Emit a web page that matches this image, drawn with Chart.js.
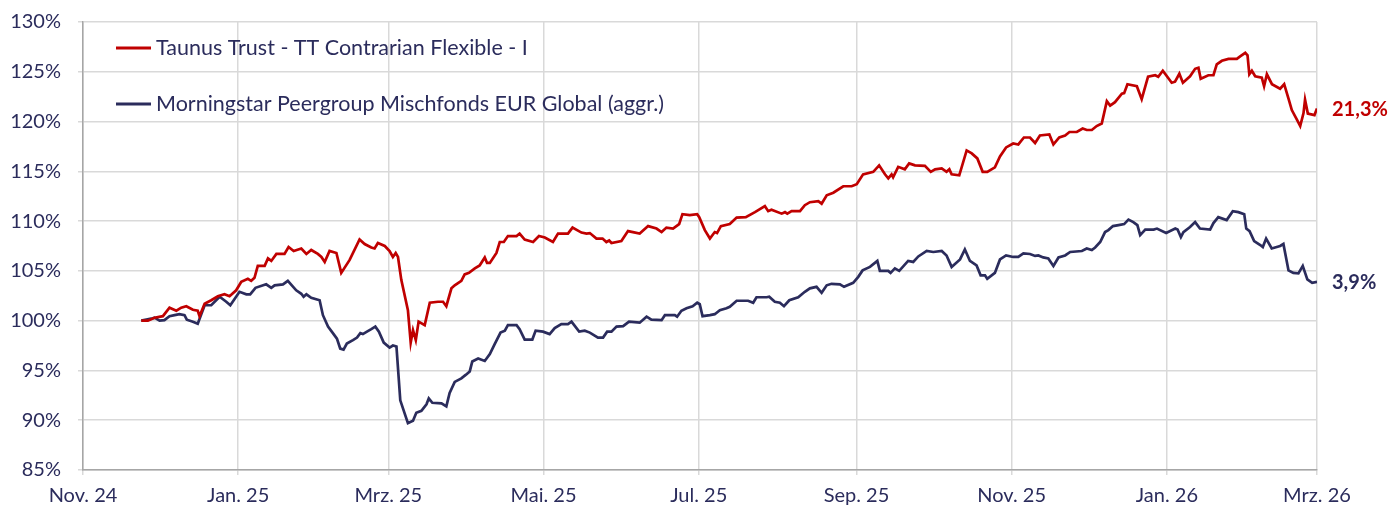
<!DOCTYPE html>
<html>
<head>
<meta charset="utf-8">
<title>Taunus Trust - TT Contrarian Flexible - I</title>
<script src="https://cdn.jsdelivr.net/npm/chart.js@4.4.1/dist/chart.umd.min.js"></script>
<style>
    html, body { margin: 0; padding: 0; background: #ffffff; }
    #chart-container { width: 1393px; height: 510px; position: relative; }
</style>
</head>
<body>
<div id="chart-container"><canvas id="Chart1"></canvas></div>
<script>
// x = Tage seit 01.11.2024
const tickDays = [0, 61, 120, 181, 242, 304, 365, 426, 485];
const tickLabels = ['Nov. 24', 'Jan. 25', 'Mrz. 25', 'Mai. 25', 'Jul. 25', 'Sep. 25', 'Nov. 25', 'Jan. 26', 'Mrz. 26'];

const fundLabel = 'Taunus Trust - TT Contrarian Flexible - I';
const fundDays = [22.9, 25.5, 28.1, 31.4, 34.0, 36.7, 38.6, 40.6, 43.2, 45.1, 45.8, 47.8, 50.4, 53.0, 55.6, 57.6, 60.2, 62.2, 64.8, 66.1,
    67.4, 68.7, 71.4, 72.7, 74.0, 76.0, 79.2, 80.8, 82.8, 85.8, 87.8, 89.7, 92.3, 93.7, 95.0, 96.9, 99.6, 101.5, 104.8, 108.7,
    110.7, 113.3, 114.6, 115.9, 118.6, 120.5, 121.8, 122.9, 123.8, 125.1, 127.7, 128.8, 129.7, 130.8, 131.9, 134.3, 136.3, 139.5, 141.5, 142.8,
    144.8, 146.1, 148.7, 150.0, 151.7, 154.0, 155.9, 157.9, 158.8, 159.9, 162.5, 163.8, 165.4, 167.0, 170.4, 171.6, 173.6, 176.9, 179.2, 181.5,
    184.7, 186.7, 190.6, 192.4, 195.9, 197.9, 199.2, 201.8, 204.2, 205.7, 206.8, 207.7, 211.6, 214.2, 218.8, 222.1, 225.4, 227.4, 229.3, 231.9,
    234.3, 235.6, 238.5, 241.4, 242.2, 244.4, 246.4, 248.3, 249.2, 250.7, 254.2, 256.9, 260.5, 264.1, 268.0, 269.3, 270.6, 274.6, 275.9, 276.8,
    278.5, 281.8, 283.7, 285.7, 289.0, 290.3, 292.3, 294.9, 298.8, 302.1, 304.1, 306.6, 310.6, 312.9, 315.2, 316.5, 317.8, 318.4, 320.4, 323.0,
    324.7, 327.0, 330.9, 333.2, 334.9, 337.5, 339.4, 340.5, 341.4, 344.4, 347.3, 349.3, 351.5, 353.6, 355.4, 358.4, 360.4, 362.8, 365.6, 367.6,
    369.8, 372.2, 374.2, 376.1, 379.8, 381.4, 383.7, 386.0, 387.7, 390.6, 392.9, 394.5, 396.5, 398.4, 400.4, 402.4, 403.7, 405.6, 408.3, 409.2,
    410.5, 414.2, 416.1, 418.6, 421.4, 422.6, 424.4, 427.9, 429.2, 430.9, 432.3, 435.1, 437.1, 438.4, 439.3, 442.3, 444.3, 445.6, 447.6, 450.2,
    453.5, 454.8, 456.8, 457.7, 458.4, 459.4, 460.7, 463.3, 464.2, 465.3, 467.3, 470.5, 472.1, 473.8, 475.1, 477.1, 478.4, 479.7, 480.3, 481.4,
    484.0, 485.0];
const fundValues = [100.0, 100.0, 100.3, 100.45, 101.3, 101.0, 101.3, 101.45, 101.1, 101.0, 100.45, 101.7, 102.05, 102.45, 102.65, 102.45, 103.05, 103.9, 104.2, 104.0,
    104.3, 105.5, 105.5, 106.25, 106.0, 106.7, 106.7, 107.4, 107.0, 107.25, 106.7, 107.1, 106.7, 106.4, 105.9, 107.0, 106.8, 104.8, 106.1, 108.15,
    107.7, 107.35, 107.25, 107.8, 107.5, 107.0, 106.4, 106.8, 106.4, 104.1, 101.05, 97.8, 99.05, 98.05, 99.9, 99.55, 101.8, 101.9, 101.9, 101.45,
    103.25, 103.55, 104.0, 104.65, 104.8, 105.25, 105.55, 106.35, 105.8, 105.8, 106.8, 107.9, 107.9, 108.5, 108.5, 108.75, 108.15, 107.9, 108.5, 108.35,
    107.9, 108.75, 108.75, 109.35, 108.85, 108.75, 108.8, 108.25, 108.25, 107.9, 108.05, 107.8, 108.0, 109.0, 108.75, 109.5, 109.25, 108.9, 109.35, 109.25,
    109.7, 110.7, 110.6, 110.7, 110.4, 109.1, 108.25, 108.9, 108.8, 109.5, 109.7, 110.35, 110.4, 110.9, 111.5, 111.0, 111.15, 110.75, 110.9, 110.75,
    111.0, 111.0, 111.6, 111.9, 112.0, 111.75, 112.6, 112.85, 113.5, 113.5, 113.7, 114.7, 114.95, 115.6, 114.7, 114.3, 114.7, 114.4, 115.45, 115.2,
    115.8, 115.6, 115.55, 114.95, 115.2, 115.3, 114.95, 115.2, 114.7, 114.6, 117.1, 116.8, 116.3, 114.95, 114.95, 115.4, 116.5, 117.4, 117.8, 117.7,
    118.4, 118.4, 117.85, 118.6, 118.7, 117.7, 118.4, 118.6, 118.95, 118.95, 119.3, 119.15, 119.15, 119.55, 119.8, 122.05, 121.6, 121.95, 122.8, 122.85,
    123.75, 123.55, 122.25, 124.5, 124.65, 124.5, 125.1, 123.9, 124.0, 124.8, 123.9, 124.55, 125.3, 125.4, 124.3, 124.65, 124.65, 125.75, 126.1, 126.3,
    126.3, 126.55, 126.9, 126.65, 124.75, 125.1, 124.55, 124.4, 123.55, 124.75, 123.75, 123.3, 123.75, 122.3, 121.15, 120.2, 119.55, 120.85, 122.2, 120.8,
    120.65, 121.3];

const peerLabel = 'Morningstar Peergroup Mischfonds EUR Global (aggr.)';
const peerDays = [22.9, 24.9, 26.8, 28.1, 30.1, 32.0, 34.0, 36.0, 37.9, 39.9, 40.8, 43.2, 45.1, 47.8, 50.4, 53.7, 56.3, 57.9, 61.5, 64.2,
    65.7, 67.8, 72.0, 74.0, 75.3, 78.6, 80.5, 83.8, 85.8, 86.7, 87.8, 89.7, 93.0, 94.3, 96.3, 98.5, 99.8, 101.1, 102.4, 103.7,
    106.1, 107.7, 109.0, 110.0, 111.6, 113.3, 114.9, 116.3, 118.2, 120.5, 121.8, 123.2, 124.7, 127.7, 129.7, 131.0, 133.0, 135.0, 135.9, 137.3,
    140.9, 142.8, 144.1, 146.1, 148.7, 150.4, 152.0, 153.0, 155.3, 157.9, 159.9, 161.8, 164.1, 165.8, 167.0, 170.4, 171.6, 173.6, 176.6, 177.9,
    180.8, 183.4, 185.4, 188.0, 190.6, 192.0, 195.0, 197.2, 199.2, 202.4, 204.4, 206.0, 207.7, 209.7, 212.3, 214.6, 218.8, 221.5, 223.4, 227.4,
    228.7, 232.6, 233.5, 235.2, 237.2, 239.6, 241.4, 242.4, 243.5, 246.4, 248.3, 250.3, 252.9, 254.2, 256.9, 261.4, 263.4, 264.7, 268.7, 269.7,
    271.9, 273.9, 275.5, 277.6, 281.1, 283.7, 285.7, 288.3, 290.3, 292.3, 294.2, 297.5, 299.1, 302.7, 304.7, 306.4, 309.3, 312.2, 313.2, 316.5,
    317.4, 319.1, 320.8, 324.3, 326.3, 328.3, 331.6, 334.2, 337.5, 339.4, 341.4, 344.7, 346.6, 348.6, 351.2, 352.8, 354.5, 355.4, 358.4, 360.4,
    362.8, 365.6, 367.6, 369.6, 372.2, 374.2, 375.5, 377.4, 379.4, 381.4, 383.4, 386.0, 388.0, 392.6, 394.5, 396.5, 397.8, 399.8, 401.7, 403.0,
    404.8, 407.0, 409.2, 410.9, 412.8, 414.4, 415.5, 417.5, 420.8, 422.1, 425.7, 429.3, 430.2, 431.5, 432.5, 435.1, 437.1, 439.0, 443.0, 444.3,
    446.2, 449.5, 451.9, 454.1, 456.4, 457.2, 458.5, 460.3, 462.7, 463.7, 465.0, 467.2, 470.5, 471.8, 473.8, 475.7, 477.7, 479.4, 481.2, 483.1,
    485.0];
const peerValues = [100.0, 100.1, 100.2, 100.3, 100.0, 100.05, 100.45, 100.55, 100.65, 100.55, 100.1, 99.9, 99.7, 101.55, 101.55, 102.4, 101.9, 101.55, 102.9, 102.65,
    102.65, 103.3, 103.65, 103.3, 103.55, 103.65, 104.0, 103.05, 102.7, 102.4, 102.65, 102.3, 102.05, 100.55, 99.4, 98.65, 98.2, 97.2, 97.1, 97.7,
    98.05, 98.3, 98.75, 98.65, 98.9, 99.15, 99.4, 98.9, 97.8, 97.3, 97.5, 97.4, 92.0, 89.7, 89.95, 90.75, 90.95, 91.6, 92.2, 91.75,
    91.7, 91.4, 92.75, 93.85, 94.2, 94.55, 94.9, 95.9, 96.2, 95.95, 96.65, 97.65, 98.8, 99.0, 99.55, 99.55, 99.15, 98.1, 98.1, 99.0,
    98.9, 98.65, 99.25, 99.65, 99.65, 99.9, 98.9, 99.0, 98.8, 98.3, 98.3, 98.9, 98.9, 99.4, 99.45, 99.9, 99.8, 100.4, 100.1, 100.05,
    100.55, 100.55, 100.4, 101.0, 101.25, 101.45, 101.8, 101.65, 100.45, 100.55, 100.65, 101.05, 101.25, 101.4, 102.0, 102.0, 101.8, 102.35, 102.35, 102.4,
    101.9, 101.8, 101.45, 102.05, 102.35, 102.9, 103.25, 103.4, 102.8, 103.55, 103.7, 103.65, 103.4, 103.8, 104.4, 105.05, 105.4, 106.0, 105.0, 105.0,
    104.8, 105.25, 105.0, 106.0, 105.9, 106.45, 107.0, 106.9, 107.0, 106.55, 105.4, 106.15, 107.15, 106.0, 105.55, 104.55, 104.55, 104.2, 104.8, 106.15,
    106.55, 106.4, 106.4, 106.75, 106.7, 106.5, 106.55, 106.35, 106.25, 105.5, 106.35, 106.55, 106.9, 107.0, 107.25, 107.1, 107.35, 107.9, 108.9, 109.1,
    109.5, 109.6, 109.7, 110.15, 109.9, 109.6, 108.6, 109.15, 109.15, 109.25, 108.8, 109.25, 109.15, 108.4, 108.9, 109.4, 109.9, 109.25, 109.15, 109.8,
    110.4, 110.1, 111.0, 110.9, 110.7, 109.25, 109.0, 108.0, 107.6, 107.4, 108.25, 107.25, 107.5, 107.7, 105.05, 104.8, 104.75, 105.5, 104.15, 103.8,
    103.9];

const yTicks = [85, 130, 5];
const fundColor = '#c00000';
const peerColor = '#2b2c5c';
const textColor = '#2b2c5c';
const fontFamily = 'Lato, "Noto Sans", sans-serif';

let plotChart;

window.onload = function () {
    createPlotChart();
};

function toPoints(days, values) {
    return days.map((d, i) => ({x: d, y: values[i]}));
}

function formatPercent(v) {
    return v.toFixed(1).replace('.', ',') + '%';
}

// Legende innerhalb des Diagramms
const innerLegend = {
    id: 'innerLegend',
    afterDraw(chart) {
        const ctx = chart.ctx;
        const area = chart.chartArea;
        const rows = [26, 82];
        ctx.save();
        ctx.font = '21.5px ' + fontFamily;
        ctx.textBaseline = 'middle';
        chart.data.datasets.forEach((ds, i) => {
            const y = area.top + rows[i];
            ctx.strokeStyle = ds.borderColor;
            ctx.lineWidth = 3;
            ctx.beginPath();
            ctx.moveTo(area.left + 33, y);
            ctx.lineTo(area.left + 68, y);
            ctx.stroke();
            ctx.fillStyle = textColor;
            ctx.fillText(ds.label, area.left + 73, y);
        });
        ctx.restore();
    }
};

// Endwerte rechts neben der Linie
const endLabels = {
    id: 'endLabels',
    afterDraw(chart) {
        const ctx = chart.ctx;
        ctx.save();
        ctx.font = 'bold 20px ' + fontFamily;
        ctx.textBaseline = 'middle';
        chart.data.datasets.forEach((ds, i) => {
            const meta = chart.getDatasetMeta(i);
            const last = meta.data[meta.data.length - 1];
            const value = ds.data[ds.data.length - 1].y - 100;
            ctx.fillStyle = ds.borderColor;
            ctx.fillText(formatPercent(value), last.x + 15, last.y + 1);
        });
        ctx.restore();
    }
};

function createPlotChart() {
    if (plotChart) {
        plotChart.destroy();
    }

    const ctx = document.getElementById('Chart1').getContext('2d');
    plotChart = new Chart(ctx, {
        type: 'line',
        data: {
            datasets: [{
                    label: fundLabel,
                    data: toPoints(fundDays, fundValues),
                    borderColor: fundColor,
                    borderWidth: 2.7,
                    pointRadius: 0,
                    tension: 0,
                    fill: false
                }, {
                    label: peerLabel,
                    data: toPoints(peerDays, peerValues),
                    borderColor: peerColor,
                    borderWidth: 2.7,
                    pointRadius: 0,
                    tension: 0,
                    fill: false
                }]
        },
        options: {
            responsive: true,
            maintainAspectRatio: false,
            animation: false,
            layout: {padding: {top: 22, right: 76, left: 0, bottom: 0}},
            plugins: {
                legend: {display: false},
                tooltip: {enabled: false}
            },
            scales: {
                x: {
                    type: 'linear',
                    min: tickDays[0],
                    max: tickDays[tickDays.length - 1],
                    afterBuildTicks: function (scale) {
                        scale.ticks = tickDays.map(v => ({value: v}));
                    },
                    afterFit: function (scale) {
                        scale.height = 40;
                    },
                    ticks: {
                        autoSkip: false,
                        maxRotation: 0,
                        padding: 9,
                        color: textColor,
                        font: {family: fontFamily, size: 20},
                        callback: function (value) {
                            return tickLabels[tickDays.indexOf(value)];
                        }
                    },
                    grid: {color: '#d9d9d9', lineWidth: 1.5, tickLength: 5},
                    border: {color: '#a6a6a6', width: 1.5}
                },
                y: {
                    min: yTicks[0],
                    max: yTicks[1],
                    afterFit: function (scale) {
                        scale.width = 83;
                        scale.paddingTop = 0;
                        scale.paddingBottom = 0;
                    },
                    ticks: {
                        stepSize: yTicks[2],
                        padding: 17,
                        color: textColor,
                        font: {family: fontFamily, size: 20},
                        callback: function (value) {
                            return value + '%';
                        }
                    },
                    grid: {color: '#d9d9d9', lineWidth: 1.5, tickLength: 5},
                    border: {color: '#a6a6a6', width: 1.5}
                }
            }
        },
        plugins: [innerLegend, endLabels]
    });
}
</script>
</body>
</html>
